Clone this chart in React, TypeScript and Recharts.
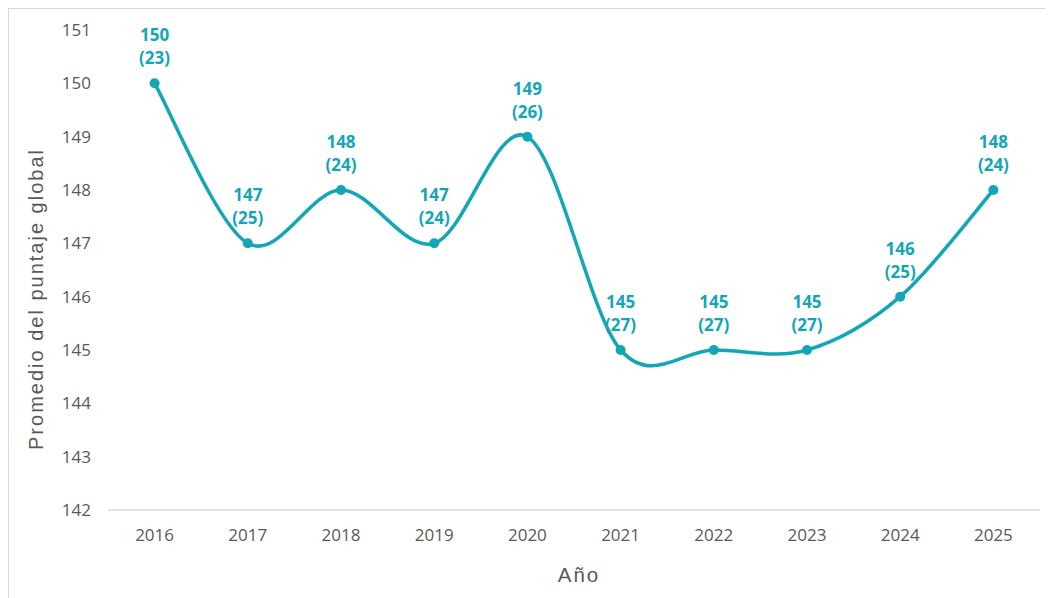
import React from "react";
import { LineChart, Line, XAxis, YAxis, CartesianGrid, LabelList } from "recharts";

const years = ["2016", "2017", "2018", "2019", "2020", "2021", "2022", "2023", "2024", "2025"];
const scores = [150, 147, 148, 147, 149, 145, 145, 145, 146, 148];
const deviations = [23, 25, 24, 24, 26, 27, 27, 27, 25, 24];
const yTicks = [142, 143, 144, 145, 146, 147, 148, 149, 150, 151];

const data = years.map((y, i) => ({ year: y, score: scores[i], sd: deviations[i] }));

const TEAL = "#12A6B6";
const GRAY = "#595959";
const TICK_FONT = "'Open Sans', sans-serif";
const TITLE_FONT = "'Liberation Sans', Arial, sans-serif";

// Excel-like smoothed line (Catmull-Rom Bezier)
const smoothCurve: any = (context: any) => {
  let pts: number[][] = [];
  return {
    areaStart() {},
    areaEnd() {},
    lineStart() {
      pts = [];
    },
    point(x: number, y: number) {
      pts.push([+x, +y]);
    },
    lineEnd() {
      if (!pts.length) return;
      context.moveTo(pts[0][0], pts[0][1]);
      for (let i = 0; i < pts.length - 1; i++) {
        const p0 = pts[i - 1] || pts[i];
        const p1 = pts[i];
        const p2 = pts[i + 1];
        const p3 = pts[i + 2] || p2;
        context.bezierCurveTo(
          p1[0] + (p2[0] - p0[0]) / 6,
          p1[1] + (p2[1] - p0[1]) / 6,
          p2[0] - (p3[0] - p1[0]) / 6,
          p2[1] - (p3[1] - p1[1]) / 6,
          p2[0],
          p2[1]
        );
      }
    },
  };
};

const renderLabel = (props: any) => {
  const { x, y, index } = props;
  const d = data[index];
  return (
    <text
      x={x}
      textAnchor="middle"
      fill={TEAL}
      fontFamily={TICK_FONT}
      fontWeight={700}
      fontSize={17}
    >
      <tspan x={x} y={y - 42}>{d.score}</tspan>
      <tspan x={x} y={y - 19}>{`(${d.sd})`}</tspan>
    </text>
  );
};

export default function App() {
  return (
    <div style={{ width: 1053, height: 598, border: "1px solid #d9d9d9", background: "#fff" }}>
      <LineChart
        width={1053}
        height={598}
        data={data}
        margin={{ top: 21, right: 22, bottom: 57, left: 39 }}
      >
        <CartesianGrid horizontal={false} vertical={false} />
        <XAxis
          dataKey="year"
          scale="band"
          axisLine={{ stroke: "#d9d9d9", strokeWidth: 1.5 }}
          tickLine={false}
          tickSize={0}
          tickMargin={19}
          height={40}
          tick={{ fill: GRAY, fontSize: 17, fontFamily: TICK_FONT }}
          label={(p: any) => {
            const vb = p.viewBox;
            return (
              <text
                x={vb.x + vb.width / 2 + 5}
                y={573}
                textAnchor="middle"
                fill={GRAY}
                fontSize={20.5}
                letterSpacing={2}
                fontFamily={TITLE_FONT}
              >
                Año
              </text>
            );
          }}
        />
        <YAxis
          domain={[142, 151]}
          ticks={yTicks}
          axisLine={false}
          tickLine={false}
          tickSize={0}
          tickMargin={17}
          width={60}
          interval={0}
          tick={{ fill: GRAY, fontSize: 17, fontFamily: TICK_FONT }}
          label={() => (
            <text
              x={0}
              y={0}
              transform="translate(34 290) rotate(-90)"
              textAnchor="middle"
              fill={GRAY}
              fontSize={20}
              letterSpacing={2}
              fontFamily={TITLE_FONT}
            >
              Promedio del puntaje global
            </text>
          )}
        />
        <Line
          dataKey="score"
          type={smoothCurve}
          stroke={TEAL}
          strokeWidth={3.5}
          dot={{ r: 5, fill: TEAL, stroke: TEAL, strokeWidth: 0 }}
          activeDot={false}
          isAnimationActive={false}
        >
          <LabelList dataKey="score" content={renderLabel} />
        </Line>
      </LineChart>
    </div>
  );
}
